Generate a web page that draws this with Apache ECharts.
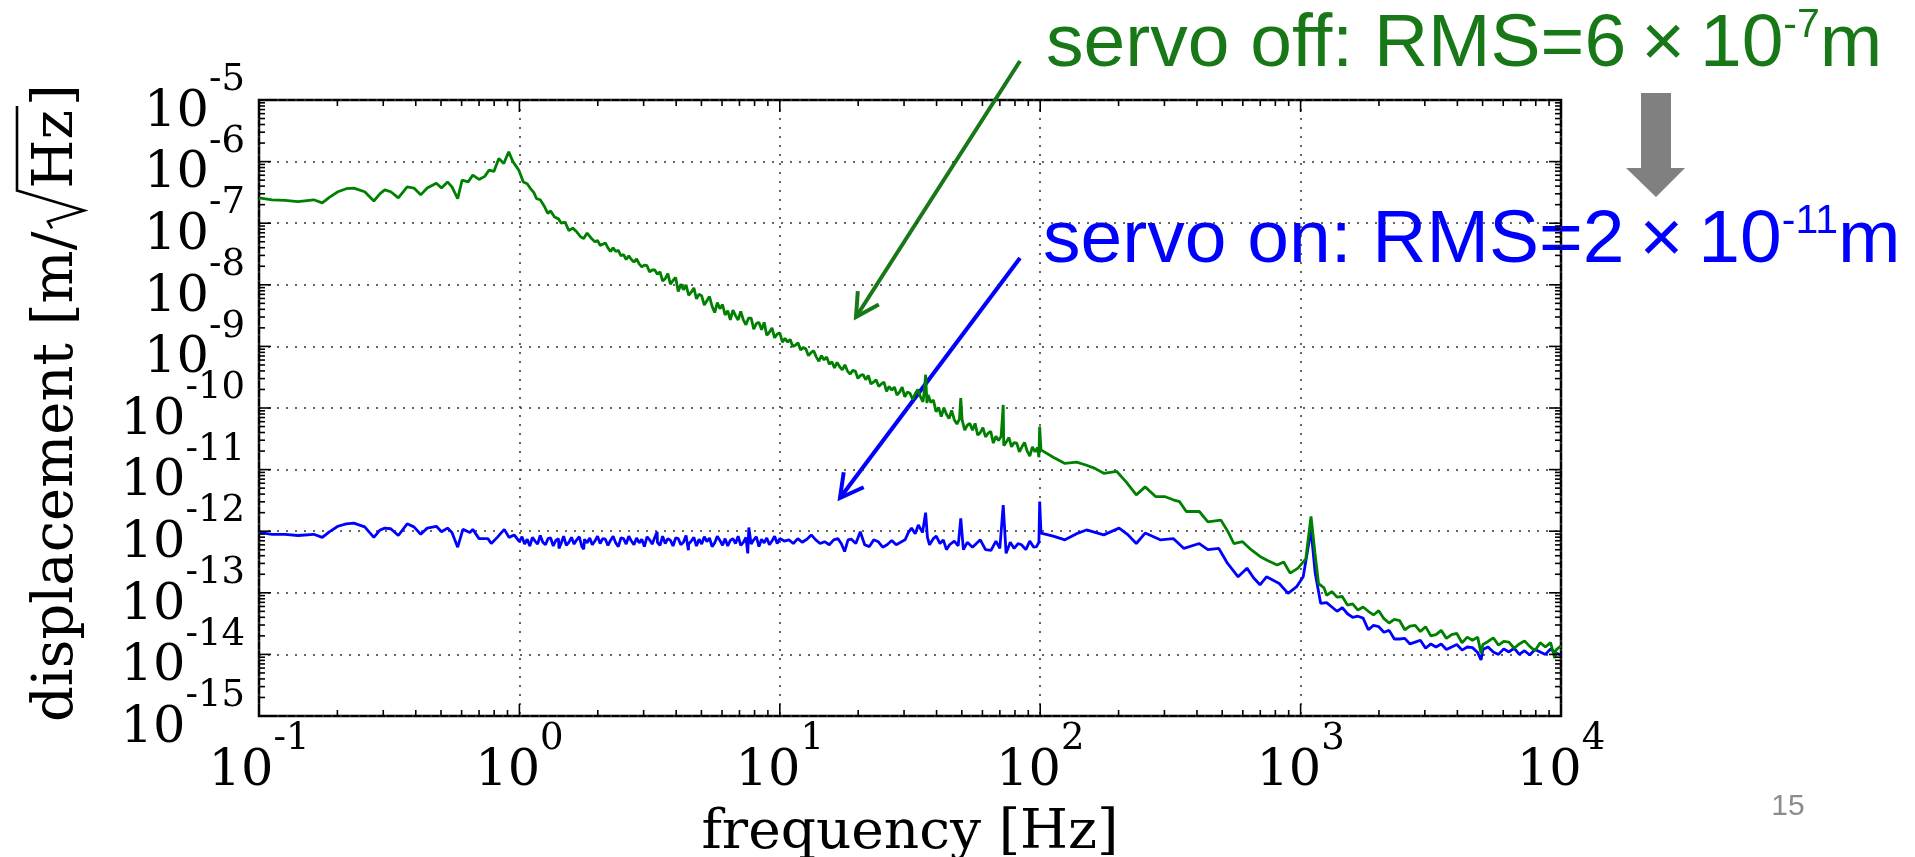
<!DOCTYPE html>
<html>
<head>
<meta charset="utf-8">
<script src="https://cdn.jsdelivr.net/npm/echarts@6/dist/echarts.min.js"></script>
<style>
  html, body { margin: 0; padding: 0; background: #fff; }
  #chart { width: 1915px; height: 857px; }
</style>
</head>
<body>
<div id="chart"></div>
<script>
// values as [log10(f / Hz), log10(displacement / m/sqrt(Hz))]
const servoOffPts = [
  [-1.0,-6.59],[-0.95,-6.62],[-0.9,-6.63],[-0.85,-6.65],[-0.79,-6.62],[-0.757,-6.67],[-0.73,-6.58],[-0.697,-6.49],
  [-0.665,-6.44],[-0.636,-6.43],[-0.594,-6.49],[-0.559,-6.64],[-0.535,-6.52],[-0.517,-6.46],[-0.494,-6.49],[-0.465,-6.59],
  [-0.431,-6.41],[-0.405,-6.43],[-0.379,-6.54],[-0.354,-6.43],[-0.319,-6.35],[-0.299,-6.43],[-0.276,-6.33],[-0.259,-6.41],
  [-0.237,-6.60],[-0.22,-6.30],[-0.197,-6.33],[-0.179,-6.22],[-0.155,-6.29],[-0.133,-6.24],[-0.117,-6.14],[-0.098,-6.16],
  [-0.079,-5.95],[-0.06,-6.03],[-0.041,-5.84],[-0.025,-6.00],[-0.002,-6.14],
  [0.015,-6.33],[0.03,-6.36],[0.041,-6.43],[0.055,-6.50],[0.066,-6.60],[0.08,-6.62],[0.095,-6.72],[0.109,-6.84],
  [0.12,-6.80],[0.135,-6.90],[0.15,-6.93],[0.161,-7.00],[0.175,-6.98],[0.19,-7.12],[0.205,-7.08],[0.22,-7.14],
  [0.235,-7.22],[0.247,-7.25],[0.26,-7.16],[0.275,-7.24],[0.29,-7.30],
  [0.30,-7.28],[0.31,-7.36],[0.32,-7.34],[0.33,-7.32],[0.34,-7.40],[0.35,-7.46],[0.36,-7.40],[0.37,-7.46],
  [0.38,-7.44],[0.39,-7.53],[0.40,-7.51],[0.41,-7.59],[0.42,-7.53],[0.43,-7.59],[0.44,-7.63],[0.45,-7.58],
  [0.46,-7.66],[0.47,-7.71],[0.48,-7.68],[0.49,-7.69],[0.50,-7.79],[0.51,-7.76],[0.52,-7.76],[0.53,-7.83],
  [0.54,-7.79],[0.55,-7.94],[0.56,-7.90],[0.57,-7.82],[0.58,-7.99],[0.59,-7.93],[0.60,-7.88],[0.61,-8.11],
  [0.62,-7.99],[0.63,-8.08],[0.64,-8.00],[0.65,-8.17],[0.66,-8.12],[0.67,-8.05],[0.68,-8.23],[0.69,-8.15],
  [0.70,-8.18],[0.71,-8.33],[0.72,-8.26],[0.73,-8.19],[0.74,-8.35],[0.75,-8.45],[0.76,-8.29],[0.77,-8.39],
  [0.78,-8.32],[0.79,-8.49],[0.80,-8.42],[0.81,-8.57],[0.82,-8.41],[0.83,-8.50],[0.84,-8.57],[0.85,-8.43],
  [0.86,-8.57],[0.87,-8.65],[0.88,-8.54],[0.89,-8.54],[0.90,-8.72],[0.91,-8.63],[0.92,-8.61],[0.93,-8.73],
  [0.94,-8.61],[0.95,-8.82],[0.96,-8.77],[0.97,-8.70],[0.98,-8.86],[0.99,-8.80],[1.00,-8.78],[1.01,-8.93],
  [1.02,-8.87],[1.03,-8.93],[1.04,-8.89],[1.05,-9.00],[1.06,-8.98],[1.07,-8.94],[1.08,-9.06],[1.09,-9.02],
  [1.10,-9.04],[1.11,-9.15],[1.12,-9.10],[1.13,-9.07],[1.14,-9.17],[1.15,-9.24],[1.16,-9.15],[1.17,-9.22],
  [1.18,-9.17],[1.19,-9.29],[1.20,-9.25],[1.21,-9.35],[1.22,-9.26],[1.23,-9.33],[1.24,-9.38],[1.25,-9.30],
  [1.26,-9.40],[1.27,-9.45],[1.28,-9.39],[1.29,-9.40],[1.30,-9.52],[1.31,-9.47],[1.32,-9.46],[1.33,-9.54],
  [1.34,-9.47],[1.35,-9.61],[1.36,-9.58],[1.37,-9.54],[1.38,-9.65],[1.39,-9.61],[1.40,-9.58],[1.41,-9.73],
  [1.42,-9.65],[1.43,-9.71],[1.44,-9.66],[1.45,-9.79],[1.46,-9.74],[1.47,-9.66],[1.48,-9.82],[1.49,-9.74],
  [1.50,-9.76],[1.51,-9.86],[1.52,-9.77],[1.53,-9.70],[1.54,-9.82],[1.55,-9.90],[1.555,-9.72],[1.56,-9.46],
  [1.565,-9.92],[1.57,-9.79],[1.58,-9.91],[1.59,-9.87],[1.60,-10.06],[1.61,-9.99],[1.62,-10.14],[1.63,-10.00],
  [1.64,-10.10],[1.65,-10.17],[1.66,-10.04],[1.67,-10.19],[1.68,-10.26],[1.69,-10.18],[1.695,-9.84],[1.70,-10.19],
  [1.71,-10.36],[1.72,-10.28],[1.73,-10.25],[1.74,-10.36],[1.75,-10.25],[1.76,-10.44],[1.77,-10.40],[1.78,-10.32],
  [1.79,-10.47],[1.80,-10.41],[1.81,-10.38],[1.82,-10.57],[1.83,-10.46],[1.84,-10.53],[1.85,-10.46],[1.858,-9.95],
  [1.86,-10.61],[1.87,-10.55],[1.88,-10.48],[1.89,-10.63],[1.90,-10.56],[1.91,-10.57],[1.92,-10.71],[1.93,-10.63],
  [1.94,-10.56],[1.95,-10.70],[1.96,-10.78],[1.97,-10.63],[1.98,-10.71],[1.99,-10.64],[1.995,-10.80],[1.998,-10.30],
  [2.003,-10.68],
  [2.05,-10.80],[2.095,-10.90],[2.14,-10.88],[2.178,-10.93],[2.21,-10.98],[2.244,-11.06],[2.294,-11.03],[2.33,-11.20],
  [2.369,-11.41],[2.403,-11.28],[2.444,-11.44],[2.48,-11.44],[2.511,-11.49],[2.535,-11.52],[2.561,-11.68],[2.611,-11.68],
  [2.644,-11.85],[2.694,-11.82],[2.72,-12.00],[2.744,-12.20],[2.777,-12.17],[2.81,-12.30],[2.844,-12.41],[2.875,-12.48],
  [2.91,-12.55],[2.935,-12.50],[2.96,-12.68],[2.99,-12.60],[3.02,-12.45],[3.04,-11.76],[3.055,-12.35],[3.069,-12.85],
  [3.09,-12.92],
  [3.10,-13.04],[3.12,-12.98],[3.14,-13.07],[3.16,-13.06],[3.18,-13.20],[3.20,-13.18],[3.22,-13.28],[3.24,-13.23],
  [3.26,-13.30],[3.28,-13.36],[3.30,-13.29],[3.32,-13.42],[3.34,-13.49],[3.36,-13.43],[3.38,-13.45],[3.40,-13.60],
  [3.42,-13.54],[3.44,-13.53],[3.46,-13.63],[3.48,-13.55],[3.50,-13.70],[3.52,-13.68],[3.54,-13.61],[3.56,-13.74],
  [3.58,-13.68],[3.60,-13.66],[3.62,-13.81],[3.64,-13.72],[3.66,-13.77],[3.68,-13.72],[3.693,-13.98],[3.70,-13.84],
  [3.72,-13.79],[3.74,-13.73],[3.76,-13.85],[3.78,-13.79],[3.80,-13.80],[3.82,-13.90],[3.84,-13.83],[3.86,-13.78],
  [3.88,-13.87],[3.90,-13.94],[3.92,-13.81],[3.94,-13.88],[3.96,-13.81],[3.976,-14.06],[3.98,-13.93],[4.00,-13.86]
];
const servoOnPts = [
  [-1.0,-12.02],[-0.95,-12.05],[-0.9,-12.05],[-0.85,-12.07],[-0.79,-12.05],[-0.757,-12.10],[-0.73,-12.01],[-0.697,-11.92],
  [-0.665,-11.88],[-0.636,-11.87],[-0.594,-11.93],[-0.559,-12.10],[-0.535,-11.98],[-0.517,-11.95],[-0.494,-11.96],[-0.465,-12.07],
  [-0.431,-11.88],[-0.405,-11.93],[-0.379,-12.05],[-0.354,-11.95],[-0.319,-11.92],[-0.299,-12.01],[-0.276,-11.95],[-0.259,-12.02],
  [-0.237,-12.26],[-0.217,-11.97],[-0.19,-12.02],[-0.179,-11.97],[-0.155,-12.12],[-0.121,-12.12],[-0.108,-12.20],[-0.085,-12.10],
  [-0.058,-11.97],[-0.04,-12.10],[-0.02,-12.06],
  [0.00,-12.17],[0.01,-12.09],[0.02,-12.21],[0.03,-12.13],[0.04,-12.24],[0.05,-12.10],[0.06,-12.16],[0.07,-12.21],
  [0.08,-12.07],[0.09,-12.18],[0.10,-12.22],[0.11,-12.12],[0.12,-12.11],[0.13,-12.24],[0.14,-12.15],[0.15,-12.12],
  [0.152,-12.28],[0.16,-12.20],[0.17,-12.08],[0.18,-12.23],[0.19,-12.18],[0.20,-12.10],[0.21,-12.21],[0.22,-12.14],
  [0.23,-12.09],[0.24,-12.25],[0.247,-12.29],[0.25,-12.13],[0.26,-12.19],[0.27,-12.11],[0.28,-12.22],[0.29,-12.16],
  [0.30,-12.08],[0.31,-12.20],[0.32,-12.12],[0.33,-12.13],[0.34,-12.23],[0.35,-12.15],[0.36,-12.08],[0.37,-12.19],
  [0.38,-12.25],[0.39,-12.11],[0.40,-12.12],[0.41,-12.21],[0.42,-12.08],[0.43,-12.16],[0.44,-12.22],[0.45,-12.11],
  [0.46,-12.19],[0.47,-12.13],[0.48,-12.25],[0.49,-12.09],[0.50,-12.14],[0.51,-12.21],[0.52,-12.10],[0.529,-12.01],
  [0.53,-12.18],[0.54,-12.23],[0.55,-12.08],[0.56,-12.20],[0.57,-12.12],[0.58,-12.15],[0.59,-12.24],[0.60,-12.11],
  [0.61,-12.12],[0.62,-12.22],[0.63,-12.18],[0.64,-12.07],[0.649,-12.31],[0.65,-12.21],[0.66,-12.16],[0.67,-12.10],
  [0.68,-12.24],[0.69,-12.13],[0.70,-12.21],[0.71,-12.09],[0.72,-12.17],[0.73,-12.11],[0.74,-12.25],[0.75,-12.19],
  [0.76,-12.08],[0.77,-12.15],[0.78,-12.23],[0.79,-12.12],[0.80,-12.24],[0.81,-12.15],[0.82,-12.12],[0.83,-12.20],
  [0.84,-12.08],[0.85,-12.23],[0.86,-12.18],[0.87,-12.10],[0.877,-12.36],[0.881,-11.94],[0.89,-12.21],[0.90,-12.14],
  [0.91,-12.09],[0.92,-12.25],[0.93,-12.13],[0.94,-12.19],[0.95,-12.11],[0.96,-12.22],[0.97,-12.16],[0.98,-12.08],
  [0.99,-12.20],[1.00,-12.12],
  [1.017,-12.16],[1.035,-12.14],[1.052,-12.20],[1.069,-12.12],[1.086,-12.18],[1.104,-12.13],[1.121,-12.06],[1.138,-12.14],
  [1.155,-12.20],[1.172,-12.17],[1.19,-12.22],[1.207,-12.14],[1.223,-12.12],[1.236,-12.20],[1.249,-12.33],[1.262,-12.14],
  [1.275,-12.13],[1.292,-12.20],[1.309,-12.01],[1.326,-12.22],[1.344,-12.25],[1.361,-12.14],[1.378,-12.17],[1.395,-12.26],
  [1.412,-12.22],[1.43,-12.15],[1.447,-12.22],[1.464,-12.18],[1.481,-12.14],[1.494,-12.02],[1.506,-11.95],[1.52,-12.04],
  [1.532,-11.90],[1.548,-12.02],[1.56,-11.70],[1.567,-12.10],[1.575,-12.22],[1.59,-12.12],[1.601,-12.08],[1.615,-12.20],
  [1.628,-12.14],[1.64,-12.30],[1.652,-12.22],[1.67,-12.16],[1.685,-12.24],[1.695,-11.79],[1.705,-12.30],[1.72,-12.18],
  [1.74,-12.26],[1.755,-12.20],[1.77,-12.14],[1.79,-12.30],[1.811,-12.31],[1.83,-12.16],[1.845,-12.28],[1.858,-11.575],
  [1.869,-12.36],[1.885,-12.18],[1.9,-12.28],[1.915,-12.20],[1.928,-12.22],[1.945,-12.30],[1.96,-12.16],[1.975,-12.26],
  [1.986,-12.25],[1.995,-12.18],[1.998,-11.52],[2.003,-12.03],
  [2.05,-12.08],[2.095,-12.14],[2.14,-12.04],[2.178,-11.98],[2.244,-12.06],[2.303,-11.95],[2.335,-12.05],[2.369,-12.20],
  [2.403,-12.03],[2.461,-12.14],[2.511,-12.12],[2.552,-12.28],[2.611,-12.20],[2.644,-12.30],[2.686,-12.28],[2.719,-12.52],
  [2.76,-12.74],[2.794,-12.60],[2.82,-12.76],[2.844,-12.87],[2.869,-12.74],[2.918,-12.85],[2.952,-13.01],[2.985,-12.90],
  [3.01,-12.74],[3.04,-11.98],[3.056,-12.68],[3.077,-13.17],
  [3.10,-13.16],[3.12,-13.23],[3.14,-13.30],[3.16,-13.24],[3.18,-13.34],[3.20,-13.40],[3.22,-13.38],[3.24,-13.41],
  [3.26,-13.60],[3.28,-13.53],[3.30,-13.55],[3.32,-13.64],[3.34,-13.61],[3.36,-13.75],[3.38,-13.75],[3.40,-13.74],
  [3.42,-13.83],[3.44,-13.80],[3.46,-13.77],[3.48,-13.90],[3.50,-13.83],[3.52,-13.88],[3.54,-13.83],[3.56,-13.92],
  [3.58,-13.88],[3.60,-13.84],[3.62,-13.93],[3.64,-13.88],[3.66,-13.89],[3.68,-13.97],[3.693,-14.09],[3.70,-13.92],
  [3.72,-13.88],[3.74,-13.96],[3.76,-14.00],[3.78,-13.91],[3.80,-13.96],[3.82,-13.90],[3.84,-14.00],[3.86,-13.94],
  [3.88,-14.01],[3.90,-13.92],[3.92,-13.96],[3.94,-14.00],[3.96,-13.91],[3.98,-13.98],[4.00,-14.01]
];
const xDecades = [-1, 0, 1, 2, 3, 4];
const yDecades = [-15, -14, -13, -12, -11, -10, -9, -8, -7, -6, -5];
const minorMults = [2, 3, 4, 5, 6, 7, 8, 9];

const offData = servoOffPts.map(p => [Math.pow(10, p[0]), Math.pow(10, p[1])]);
const onData = servoOnPts.map(p => [Math.pow(10, p[0]), Math.pow(10, p[1])]);

const X_MIN = 0.1, X_MAX = 1e4, Y_MIN = 1e-15, Y_MAX = 1e-5;

// tick marks on all four sides of the frame: [x, y, side, length]
const tickData = [];
xDecades.forEach((e, i) => {
  const v = Math.pow(10, e);
  tickData.push([v, Y_MIN, 0, 12], [v, Y_MAX, 1, 12]);
  if (i < xDecades.length - 1) minorMults.forEach(m => {
    tickData.push([m * v, Y_MIN, 0, 6], [m * v, Y_MAX, 1, 6]);
  });
});
yDecades.forEach((e, i) => {
  const v = Math.pow(10, e);
  tickData.push([X_MIN, v, 2, 12], [X_MAX, v, 3, 12]);
  if (i < yDecades.length - 1) minorMults.forEach(m => {
    tickData.push([X_MIN, m * v, 2, 6], [X_MAX, m * v, 3, 6]);
  });
});

const SERIF = 'DejaVu Serif';
const SANS = 'Liberation Sans, Arial, sans-serif';
const GREEN_TXT = '#187818';
const expOf = v => Math.round(Math.log10(v));
const powLabel = v => '{b|10}{s|' + expOf(v) + '}';
// y labels are split over two overlaid axes (odd / even exponents) so the tall
// superscript boxes never collide and ECharts keeps every label
const oddLabel = v => (Math.abs(expOf(v)) % 2 === 1 ? powLabel(v) : '');
const evenLabel = v => (Math.abs(expOf(v)) % 2 === 0 ? powLabel(v) : '');
const labelRich = {
  b: { fontFamily: SERIF, fontSize: 51, lineHeight: 76, verticalAlign: 'bottom', color: '#000' },
  s: { fontFamily: SERIF, fontSize: 37, lineHeight: 36, verticalAlign: 'top', color: '#000' }
};
const gridLine = { show: true, lineStyle: { color: '#333', width: 1.5, type: [2, 7] } };
const yBase = {
  type: 'log', logBase: 10, min: Y_MIN, max: Y_MAX, splitNumber: 10, position: 'left',
  axisLine: { show: false }, axisTick: { show: false }
};

const arrow = (x1, y1, x2, y2, color) => {
  const a = Math.atan2(y2 - y1, x2 - x1), L = 26, w = 0.5;
  return {
    type: 'group',
    children: [
      { type: 'line', shape: { x1, y1, x2, y2 }, style: { stroke: color, lineWidth: 4 } },
      { type: 'polyline', shape: { points: [
          [x2 - L * Math.cos(a - w), y2 - L * Math.sin(a - w)], [x2, y2],
          [x2 - L * Math.cos(a + w), y2 - L * Math.sin(a + w)]] },
        style: { stroke: color, lineWidth: 4, fill: null } }
    ]
  };
};

// y-axis title with a drawn radical over "Hz" (rotated group, local x runs upward)
const TITLE_FS = 56;
const ctx = document.createElement('canvas').getContext('2d');
ctx.font = TITLE_FS + 'px "' + SERIF + '"';
const w1 = ctx.measureText('displacement [m/').width;
const wHz = ctx.measureText('Hz').width;
const rx = w1 + 3;
const titleText = (text, x) => ({ type: 'text', x, y: -17,
  style: { text, fontFamily: SERIF, fontSize: TITLE_FS, fill: '#000', align: 'left', verticalAlign: 'middle',
           textAlign: 'left', textVerticalAlign: 'middle' } });
const yTitle = {
  type: 'group', x: 74, y: 722, rotation: Math.PI / 2,
  children: [
    titleText('displacement [m/', 0),
    { type: 'polyline', shape: { points: [[rx, -22], [rx + 7, -26], [rx + 18, 10], [rx + 38, -57], [rx + 44 + wHz, -57]] },
      style: { stroke: '#000', lineWidth: 2.6, fill: null } },
    titleText('Hz', rx + 40),
    titleText(']', rx + 44 + wHz)
  ]
};

const chart = echarts.init(document.getElementById('chart'));
chart.setOption({
  animation: false,
  backgroundColor: '#fff',
  grid: { left: 259, top: 100, width: 1302, height: 616, show: true, borderColor: '#000', borderWidth: 2.5, backgroundColor: 'transparent' },
  xAxis: {
    type: 'log', logBase: 10, min: X_MIN, max: X_MAX, splitNumber: 5,
    axisLine: { show: false }, axisTick: { show: false },
    splitLine: gridLine,
    axisLabel: { margin: 5, formatter: powLabel, rich: labelRich, showMinLabel: true, showMaxLabel: true }
  },
  yAxis: [
    Object.assign({}, yBase, {
      splitLine: gridLine,
      axisLabel: { margin: 14, formatter: oddLabel, rich: labelRich, showMinLabel: true, showMaxLabel: true }
    }),
    Object.assign({}, yBase, {
      splitLine: { show: false },
      axisLabel: { margin: 14, formatter: evenLabel, rich: labelRich, showMinLabel: false, showMaxLabel: false }
    })
  ],
  series: [
    { name: 'servo on', type: 'line', data: onData, showSymbol: false, lineStyle: { color: '#0000ff', width: 2.8 }, z: 3 },
    { name: 'servo off', type: 'line', data: offData, showSymbol: false, lineStyle: { color: '#008000', width: 2.8 }, z: 4 },
    {
      type: 'custom', data: tickData, z: 5, silent: true,
      renderItem: (params, api) => {
        const p = api.coord([api.value(0), api.value(1)]);
        const side = api.value(2), len = api.value(3);
        const d = [[0, -1], [0, 1], [1, 0], [-1, 0]][side];
        return { type: 'line', shape: { x1: p[0], y1: p[1], x2: p[0] + d[0] * len, y2: p[1] + d[1] * len },
                 style: { stroke: '#000', lineWidth: 1.6 } };
      }
    }
  ],
  graphic: [
    yTitle,
    { type: 'text', x: 910, y: 834,
      style: { text: 'frequency [Hz]', fontFamily: SERIF, fontSize: 55, fill: '#000',
               align: 'center', verticalAlign: 'middle', textAlign: 'center', textVerticalAlign: 'middle' } },
    { type: 'text', x: 1046, y: 44,
      style: { text: '{t|servo off: RMS=6\u2009\u00D7\u200910}{s|-7}{t|m}', fill: GREEN_TXT,
               align: 'left', verticalAlign: 'middle', textAlign: 'left', textVerticalAlign: 'middle',
               rich: { t: { fontFamily: SANS, fontSize: 75, lineHeight: 78, verticalAlign: 'bottom', fill: GREEN_TXT },
                       s: { fontFamily: SANS, fontSize: 41, lineHeight: 41, verticalAlign: 'top', fill: GREEN_TXT } } } },
    { type: 'text', x: 1043, y: 240,
      style: { text: '{t|servo on: RMS=2\u2009\u00D7\u200910}{s|-11}{t|m}', fill: '#0000ff',
               align: 'left', verticalAlign: 'middle', textAlign: 'left', textVerticalAlign: 'middle',
               rich: { t: { fontFamily: SANS, fontSize: 75, lineHeight: 78, verticalAlign: 'bottom', fill: '#0000ff' },
                       s: { fontFamily: SANS, fontSize: 41, lineHeight: 41, verticalAlign: 'top', fill: '#0000ff' } } } },
    arrow(1020, 61, 856, 317, GREEN_TXT),
    arrow(1020, 258, 840, 498, '#0000ff'),
    { type: 'polygon', shape: { points: [[1641, 93], [1671, 93], [1671, 168], [1685, 168], [1656, 197], [1626, 168], [1641, 168]] },
      style: { fill: '#808080' } },
    { type: 'text', x: 1788, y: 807,
      style: { text: '15', fontFamily: SANS, fontSize: 30, fill: '#8c8c8c',
               align: 'center', verticalAlign: 'middle', textAlign: 'center', textVerticalAlign: 'middle' } }
  ]
});
</script>
</body>
</html>
